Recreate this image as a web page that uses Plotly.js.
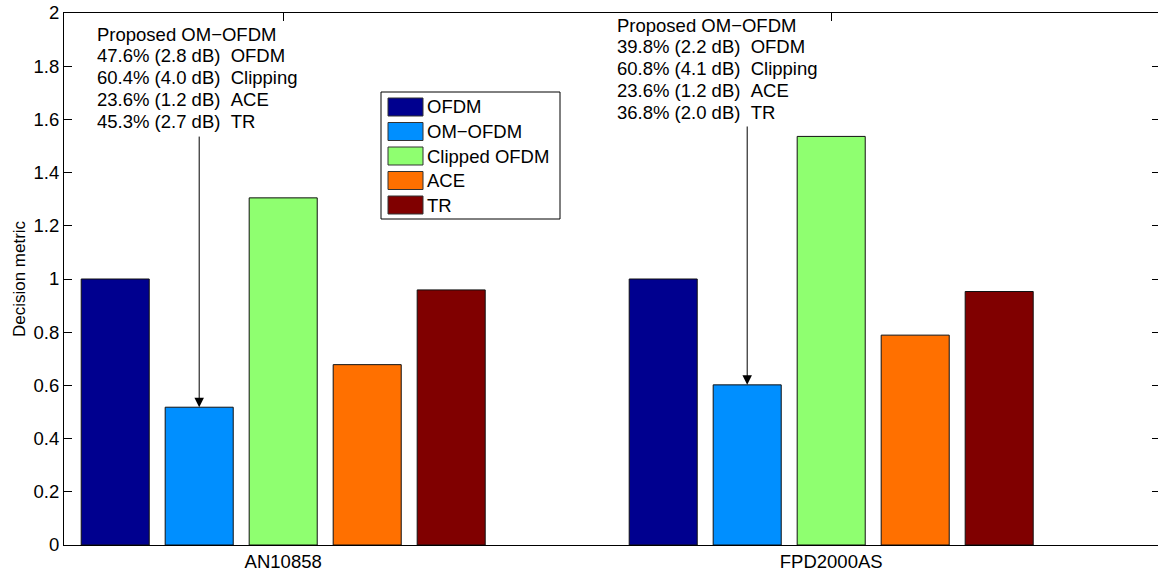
<!DOCTYPE html>
<html>
<head>
<meta charset="utf-8">
<script src="https://cdn.plot.ly/plotly-3.0.1.min.js"></script>
<style>
html, body { margin: 0; padding: 0; overflow: hidden; background: #fff; }
#chart { width: 1160px; height: 574px; }
</style>
</head>
<body>
<div id="chart"></div>
<script>
// ---- data ----
const categories = ['AN10858', 'FPD2000AS'];
const seriesNames = ['OFDM', 'OM\u2212OFDM', 'Clipped OFDM', 'ACE', 'TR'];
const seriesColors = ['#00008F', '#008FFF', '#8FFF70', '#FF7000', '#800000'];
const ofdm = [1.0, 1.0];
const omOfdm = [0.518, 0.602];
const clippedOfdm = [1.305, 1.536];
const ace = [0.678, 0.789];
const tr = [0.959, 0.953];
const seriesValues = [ofdm, omOfdm, clippedOfdm, ace, tr];

const noteLines1 = ['Proposed OM\u2212OFDM', '47.6% (2.8 dB) \u00a0OFDM', '60.4% (4.0 dB) \u00a0Clipping', '23.6% (1.2 dB) \u00a0ACE', '45.3% (2.7 dB) \u00a0TR'];
const noteLines2 = ['Proposed OM\u2212OFDM', '39.8% (2.2 dB) \u00a0OFDM', '60.8% (4.1 dB) \u00a0Clipping', '23.6% (1.2 dB) \u00a0ACE', '36.8% (2.0 dB) \u00a0TR'];
const arrowTailY = [1.541, 1.579];
const yTicks = [0, 0.2, 0.4, 0.6, 0.8, 1, 1.2, 1.4, 1.6, 1.8, 2];

// ---- layout geometry ----
const W = 1160, H = 574;
const M = {l: 64, r: 0, t: 13, b: 29};
const pw = W - M.l - M.r, ph = H - M.t - M.b;
const px = x => (x - M.l) / pw;          // pixel -> paper x
const py = y => (H - M.b - y) / ph;      // pixel -> paper y
const FONT = 'Liberation Sans, Arial, Helvetica, sans-serif';
const FS = 18.5;
const bargap = 0.2336, bargroupgap = 0.19;

const traces = seriesNames.map((name, i) => ({
  type: 'bar',
  name: name,
  x: categories,
  y: seriesValues[i],
  marker: {color: seriesColors[i], line: {color: '#111', width: 1}},
  showlegend: false,
  hoverinfo: 'x+y+name'
}));

// manual legend (wide swatches like the original)
const shapes = [];
const annotations = [];
shapes.push({type: 'rect', xref: 'paper', yref: 'paper',
  x0: px(381), x1: px(560), y0: py(219), y1: py(92),
  line: {color: '#000', width: 1}, fillcolor: '#fff', layer: 'above'});
seriesNames.forEach((name, i) => {
  const cy = 107 + i * 24.5;
  shapes.push({type: 'rect', xref: 'paper', yref: 'paper',
    x0: px(388), x1: px(423), y0: py(cy + 9), y1: py(cy - 9),
    line: {color: '#333', width: 1}, fillcolor: seriesColors[i], layer: 'above'});
  annotations.push({xref: 'paper', yref: 'paper', x: px(425), y: py(cy),
    xanchor: 'left', yanchor: 'middle', showarrow: false, text: name,
    font: {family: FONT, size: FS, color: '#000'}});
});

// text blocks, one annotation per line for tight line spacing
function addBlock(lines, left, firstCenter) {
  lines.forEach((t, i) => {
    annotations.push({xref: 'paper', yref: 'paper', x: px(left), y: py(firstCenter + i * 21.9),
      xanchor: 'left', yanchor: 'middle', align: 'left', showarrow: false,
      text: t, font: {family: FONT, size: FS, color: '#000'}});
  });
}
addBlock(noteLines1, 95, 34);
addBlock(noteLines2, 615, 25);

// arrows pointing to the OM-OFDM bars
const slot = (1 - bargap) / seriesNames.length;
const omIdx = 1;
const omOffset = (omIdx - (seriesNames.length - 1) / 2) * slot;
categories.forEach((c, k) => {
  annotations.push({xref: 'x', yref: 'y', axref: 'x', ayref: 'y',
    x: k + omOffset, y: omOfdm[k], ax: k + omOffset, ay: arrowTailY[k],
    text: '', showarrow: true, arrowhead: 2, arrowsize: 1.9, arrowwidth: 1,
    arrowcolor: '#000', standoff: 0, startstandoff: 0});
});

const layout = {
  width: W, height: H,
  margin: M,
  paper_bgcolor: '#fff', plot_bgcolor: '#fff',
  font: {family: FONT, size: FS, color: '#000'},
  barmode: 'group', bargap: bargap, bargroupgap: bargroupgap,
  xaxis: {type: 'category', range: [-0.4, 1.6], showgrid: false, zeroline: false,
    showline: true, linecolor: '#000', linewidth: 1, mirror: 'ticks',
    ticks: 'inside', ticklen: 8, tickcolor: '#000', layer: 'below traces',
    tickfont: {family: FONT, size: FS, color: '#000'}, fixedrange: true},
  yaxis: {range: [0, 2], tickvals: yTicks, showgrid: false, zeroline: false,
    showline: true, linecolor: '#000', linewidth: 1, mirror: 'ticks',
    ticks: 'inside', ticklen: 8, tickcolor: '#000',
    tickfont: {family: FONT, size: FS, color: '#000'},
    title: {text: 'Decision metric', font: {family: FONT, size: 17, color: '#000'}, standoff: 3},
    fixedrange: true},
  shapes: shapes,
  annotations: annotations
};

Plotly.newPlot('chart', traces, layout, {displayModeBar: false, staticPlot: true});
</script>
</body>
</html>
